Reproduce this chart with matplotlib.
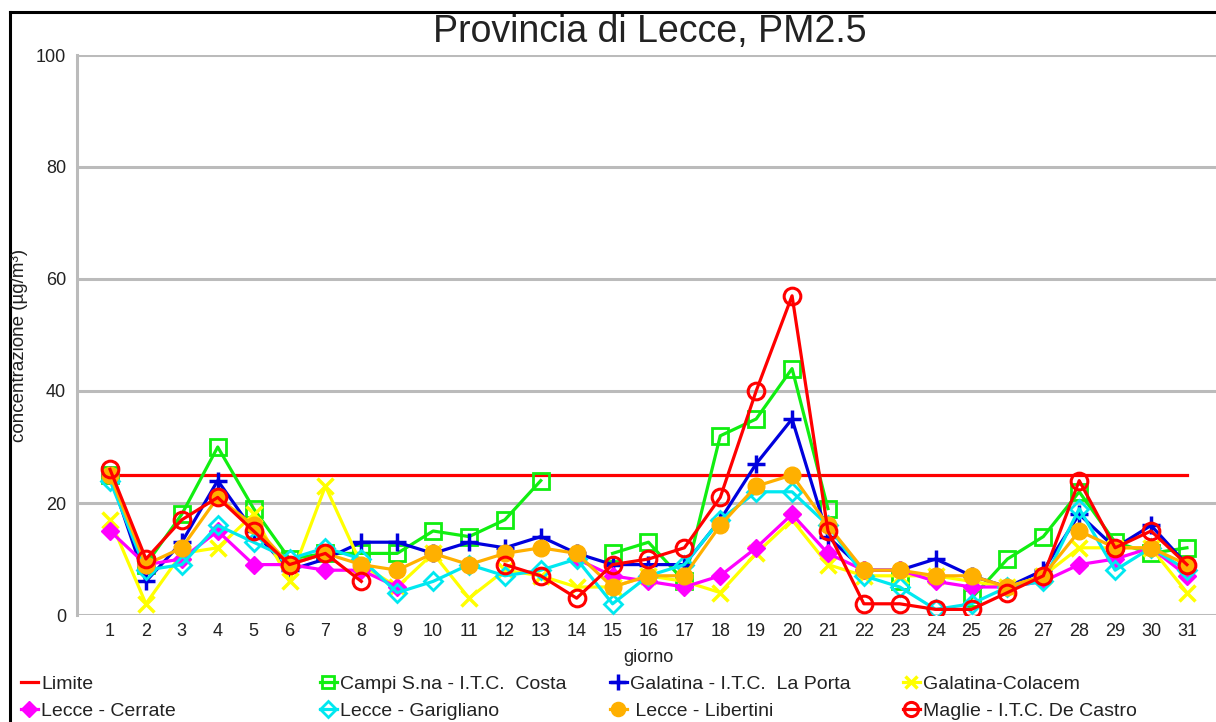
import numpy as np
import matplotlib
matplotlib.use("Agg")
import matplotlib.pyplot as plt
from matplotlib.lines import Line2D

plt.rcParams['font.family'] = ['Liberation Sans', 'DejaVu Sans']

nan = np.nan
giorni = list(range(1, 32))

limite = [25] * 31
campi = [25, 9, 18, 30, 19, 10, 11, 11, 11, 15, 14, 17, 24, nan, 11, 13, 6, 32, 35, 44,
         19, nan, 6, nan, 3, 10, 14, 22, 13, 11, 12]
galatina_porta = [25, 6, 13, 24, 15, 8, 10, 13, 13, 11, 13, 12, 14, 11, 9, 9, 9, 17, 27, 35,
                  14, 8, 8, 10, 7, 5, 8, 18, 12, 16, 9]
galatina_colacem = [17, 2, 11, 12, 18, 6, 23, 9, 5, 11, 3, 8, 7, 5, 5, 7, 6, 4, 11, 17,
                    9, 7, 7, 7, 6, 5, 7, 12, 12, 12, 4]
lecce_cerrate = [15, 9, 10, 15, 9, 9, 8, 8, 5, nan, nan, nan, nan, 10, 7, 6, 5, 7, 12, 18,
                 11, 8, 8, 6, 5, 5, 6, 9, 10, 12, 7]
lecce_garigliano = [24, 8, 9, 16, 13, 10, 12, 10, 4, 6, 9, 7, 8, 10, 2, 7, 9, 17, 22, 22,
                    16, 7, 5, 1, 2, 5, 6, 19, 8, 12, 8]
lecce_libertini = [25, 9, 12, 21, 16, 9, 11, 9, 8, 11, 9, 11, 12, 11, 5, 7, 7, 16, 23, 25,
                   16, 8, 8, 7, 7, 5, 7, 15, 12, 12, 9]
maglie = [26, 10, 17, 21, 15, 9, 11, 6, nan, nan, nan, 9, 7, 3, 9, 10, 12, 21, 40, 57,
          15, 2, 2, 1, 1, 4, 7, 24, 12, 15, 9]

yticks = [0, 20, 40, 60, 80, 100]

fig = plt.figure(figsize=(12.16, 7.22), dpi=100)
ax = fig.add_axes([77/1216, 1 - 615/722, 1 - 77/1216, (615 - 55)/722])

lw = 2.3
h_lim, = ax.plot(giorni, limite, color='#FF0000', lw=lw, label='Limite', zorder=3)
h_campi, = ax.plot(giorni, campi, color='#11EE11', lw=lw, marker='s', ms=11, mfc='none',
                   mew=2, label='Campi S.na - I.T.C.  Costa', zorder=3)
h_porta, = ax.plot(giorni, galatina_porta, color='#0000DD', lw=lw, marker='+', ms=13,
                   mew=2.5, label='Galatina - I.T.C.  La Porta', zorder=3)
h_col, = ax.plot(giorni, galatina_colacem, color='#FFFF00', lw=lw, marker='x', ms=11,
                 mew=2.5, label='Galatina-Colacem', zorder=3)
h_cer, = ax.plot(giorni, lecce_cerrate, color='#FF00FF', lw=lw, marker='D', ms=9,
                 label='Lecce - Cerrate', zorder=3)
h_gar, = ax.plot(giorni, lecce_garigliano, color='#00E8F0', lw=lw, marker='D', ms=9,
                 mfc='none', mew=2, label='Lecce - Garigliano', zorder=3)
h_lib, = ax.plot(giorni, lecce_libertini, color='#FFB000', lw=lw, marker='o', ms=12,
                 label=' Lecce - Libertini', zorder=3)
h_mag, = ax.plot(giorni, maglie, color='#FF0000', lw=lw, marker='o', ms=12, mfc='none',
                 mew=2.2, label='Maglie - I.T.C. De Castro', zorder=4)

ax.set_xlim(0.08, 31.81)
ax.set_ylim(0, 100)
ax.set_xticks(giorni)
ax.set_yticks(yticks)
ax.tick_params(axis='both', length=0, labelsize=13, colors='#222222')
ax.tick_params(axis='y', pad=8)
ax.tick_params(axis='x', pad=6)
ax.grid(axis='y', color='#BBBBBB', lw=2.2, zorder=1)
for s in ['top', 'right', 'bottom']:
    ax.spines[s].set_visible(False)
ax.spines['left'].set_color('#BBBBBB')
ax.spines['left'].set_linewidth(2.2)

fig.text(20/1216, 1 - 345/722, 'concentrazione (µg/m³)', fontsize=13.5, color='#222222',
         rotation=90, ha='center', va='center')
fig.text(648/1216, 1 - 657/722, 'giorno', fontsize=13, color='#222222',
         ha='center', va='center')
fig.text(650/1216, 1 - 32/722, 'Provincia di Lecce, PM2.5', fontsize=27, ha='center',
         va='center', color='#222222')

# legends in 4 columns
cols = [([h_lim, h_cer], 21), ([h_campi, h_gar], 320), ([h_porta, h_lib], 610), ([h_col, h_mag], 903)]
for hs, x in cols:
    fig.legend(handles=hs, loc='upper left', bbox_to_anchor=(x/1216, 1 - 675/722),
               frameon=False, fontsize=14, handlelength=0.85, handletextpad=0.2,
               labelspacing=0.5, borderpad=0, borderaxespad=0, markerscale=0.85,
               labelcolor='#222222')

# figure frame (left and top edges)
fig.add_artist(Line2D([9.5/1216, 9.5/1216], [0, 1 - 12/722], color='black', lw=2.2,
                      transform=fig.transFigure))
fig.add_artist(Line2D([9.5/1216, 1], [1 - 12/722, 1 - 12/722], color='black', lw=2.2,
                      transform=fig.transFigure))

fig.savefig('out.png', dpi=100)
